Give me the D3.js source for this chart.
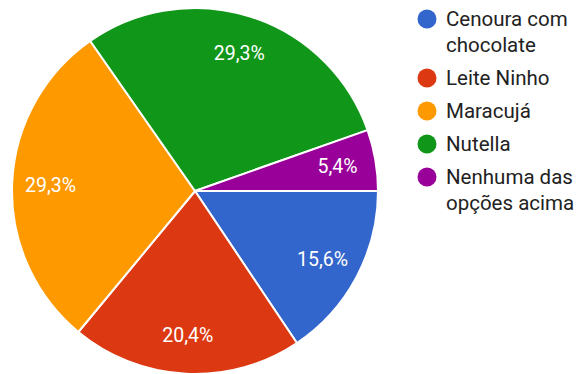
<!DOCTYPE html>
<html>
<head>
<meta charset="utf-8">
<script src="https://cdn.jsdelivr.net/npm/d3@7"></script>
<style>
  html, body { margin: 0; padding: 0; background: #ffffff; }
  svg { display: block; font-family: Roboto, "Noto Sans", Arial, sans-serif; }
</style>
</head>
<body>
<svg id="chart" width="578" height="374"></svg>
<script>
// Survey answers: share of respondents per option (percent)
const categories = ["Cenoura com chocolate", "Leite Ninho", "Maracujá", "Nutella", "Nenhuma das opções acima"];
const values = [15.6, 20.4, 29.3, 29.3, 5.4];
const legendLines = [["Cenoura com", "chocolate"], ["Leite Ninho"], ["Maracujá"], ["Nutella"], ["Nenhuma das", "opções acima"]];
const colors = ["#3366cc", "#dc3912", "#ff9900", "#109618", "#990099"];

const svg = d3.select("#chart");
const cx = 195, cy = 191, radius = 183;

const color = d3.scaleOrdinal().domain(categories).range(colors);

const data = categories.map((c, i) => ({ name: c, value: values[i] }));

// slices run clockwise from the 3 o'clock position
const pie = d3.pie()
  .value(d => d.value)
  .sort(null)
  .startAngle(Math.PI / 2)
  .endAngle(Math.PI / 2 + 2 * Math.PI);

const arcs = pie(data);
const arc = d3.arc().innerRadius(0).outerRadius(radius);
const labelArc = d3.arc().innerRadius(radius * 0.79).outerRadius(radius * 0.79);

const g = svg.append("g").attr("transform", `translate(${cx},${cy})`);

g.selectAll("path.slice")
  .data(arcs)
  .join("path")
  .attr("class", "slice")
  .attr("d", arc)
  .attr("fill", d => color(d.data.name))
  .attr("stroke", "#ffffff")
  .attr("stroke-width", 2)
  .attr("stroke-linejoin", "round");

const fmt = v => d3.format(".1f")(v).replace(".", ",") + "%";

g.selectAll("text.pct")
  .data(arcs)
  .join("text")
  .attr("class", "pct")
  .attr("transform", d => `translate(${labelArc.centroid(d)})`)
  .attr("text-anchor", "middle")
  .attr("dominant-baseline", "central")
  .attr("fill", "#ffffff")
  .attr("font-size", 19.5)
  .text(d => fmt(d.data.value));

// legend
const legend = svg.append("g");
const dotX = 427, textX = 446, lineH = 26, itemGap = 33;
let y = 19;
legendLines.forEach((lines, i) => {
  const item = legend.append("g").attr("transform", `translate(0,${y})`);
  item.append("circle")
    .attr("cx", dotX).attr("cy", 0).attr("r", 9.5)
    .attr("fill", color(categories[i]));
  lines.forEach((t, j) => {
    item.append("text")
      .attr("x", textX)
      .attr("y", j * lineH + 7)
      .attr("fill", "#222222")
      .attr("font-size", 20.5)
      .text(t);
  });
  y += (lines.length - 1) * lineH + itemGap;
});
</script>
</body>
</html>
